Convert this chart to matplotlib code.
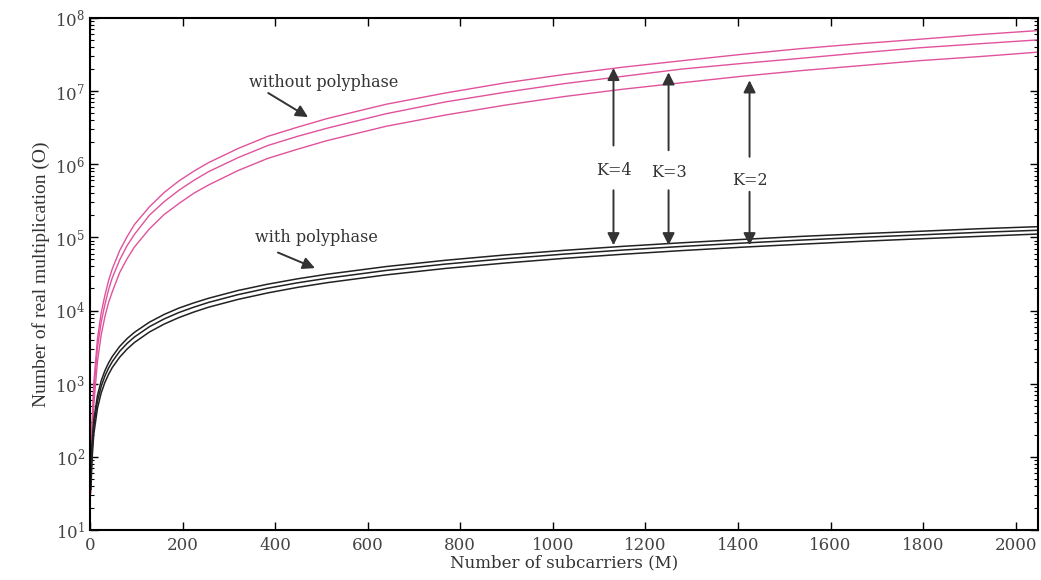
import numpy as np
import matplotlib
matplotlib.use('Agg')
import matplotlib.pyplot as plt

plt.rcParams['font.family'] = 'DejaVu Serif'
plt.rcParams['mathtext.fontset'] = 'dejavuserif'

# Number of subcarriers M
M = [2, 4, 8, 16, 24, 32, 40, 48, 64, 80, 96, 128, 160, 192, 224, 256, 320,
     384, 448, 512, 640, 768, 896, 1024, 1152, 1280, 1408, 1536, 1664, 1792,
     1920, 2048]

# without polyphase (pink)
sin_k4 = [64, 260, 1000, 4100, 9200, 16000, 25600, 37000, 66000, 102000,
          150000, 260000, 410000, 590000, 800000, 1.05e6, 1.64e6, 2.4e6,
          3.2e6, 4.2e6, 6.6e6, 9.4e6, 1.29e7, 1.68e7, 2.12e7, 2.6e7, 3.17e7,
          3.8e7, 4.43e7, 5.1e7, 5.9e7, 6.7e7]
sin_k3 = [48, 190, 770, 3100, 6900, 12000, 19200, 28000, 49000, 77000,
          110000, 200000, 307000, 440000, 600000, 790000, 1.23e6, 1.8e6,
          2.4e6, 3.1e6, 4.9e6, 7.1e6, 9.6e6, 1.26e7, 1.59e7, 2.0e7, 2.38e7,
          2.8e7, 3.32e7, 3.9e7, 4.42e7, 5.0e7]
sin_k2 = [32, 130, 510, 2000, 4600, 8200, 12800, 18000, 33000, 51000,
          74000, 130000, 205000, 290000, 400000, 520000, 820000, 1.2e6,
          1.6e6, 2.1e6, 3.3e6, 4.7e6, 6.4e6, 8.4e6, 1.06e7, 1.3e7, 1.59e7,
          1.9e7, 2.22e7, 2.6e7, 2.95e7, 3.4e7]

# with polyphase (black)
con_k4 = [65, 144, 317, 690, 1090, 1500, 1920, 2350, 3230, 4130, 5040, 6910,
          8830, 10800, 12700, 14700, 18800, 22900, 27100, 31300, 39900,
          48600, 57400, 66400, 75400, 84400, 93600, 103000, 112000, 121000,
          131000, 140000]
con_k3 = [50, 115, 259, 576, 915, 1270, 1630, 2000, 2770, 3550, 4350, 5990,
          7670, 9390, 11100, 12900, 16500, 20200, 23900, 27600, 35300,
          43100, 51000, 59000, 67100, 75200, 83400, 91700, 100000, 108000,
          117000, 125000]
con_k2 = [36, 86, 202, 461, 742, 1040, 1340, 1660, 2300, 2970, 3660, 5070,
          6520, 8010, 9520, 11100, 14200, 17400, 20700, 24000, 30700, 37600,
          44500, 51600, 58800, 66000, 73300, 80600, 88100, 95500, 103000,
          111000]

fig = plt.figure(figsize=(10.41, 5.80), dpi=100)
ax = fig.add_axes([0.0865, 0.0862, 0.9105, 0.883])

rosa = '#e0529b'
for serie in (sin_k4, sin_k3, sin_k2):
    ax.plot(M, serie, color=rosa, lw=1.0)
for serie in (con_k4, con_k3, con_k2):
    ax.plot(M, serie, color='#222222', lw=1.1)

ax.set_yscale('log')
ax.set_xlim(0, 2048)
ax.set_ylim(10, 1e8)
ax.set_xticks(range(0, 2001, 200))
ax.set_yticks([10.0 ** k for k in range(1, 9)])
ax.tick_params(which='both', direction='in', top=True, right=True,
               labelsize=12, colors='black')
ax.tick_params(which='major', length=6, width=1)
ax.tick_params(which='minor', length=3, width=0.8)
ax.tick_params(axis='x', pad=5)
for s in ax.spines.values():
    s.set_linewidth(1.5)

for lab in ax.get_xticklabels() + ax.get_yticklabels():
    lab.set_color('#444444')

ax.set_xlabel('Number of subcarriers (M)', fontsize=12, color='#333333',
              labelpad=0)
ax.set_ylabel('Number of real multiplication (O)', fontsize=14,
              family='Liberation Serif', color='#333333', labelpad=4)

flecha = dict(arrowstyle='-|>', color='#333333', lw=1.4, mutation_scale=18,
              shrinkA=0, shrinkB=0)

# etiquetas de las curvas
ax.text(504, 1.3e7, 'without polyphase', fontsize=11.5, color='#333333',
        ha='center', va='center')
ax.annotate('', xy=(471, 4.4e6), xytext=(385, 9.4e6), arrowprops=flecha)
ax.text(489, 9.8e4, 'with polyphase', fontsize=11.5, color='#333333',
        ha='center', va='center')
ax.annotate('', xy=(486, 3.8e4), xytext=(406, 6.2e4), arrowprops=flecha)

# flechas de K
k_x = [1131, 1250, 1425]
k_txt = ['K=4', 'K=3', 'K=2']
k_arriba = [2.07e7, 1.8e7, 1.4e7]
k_cola = [1.8e6, 1.55e6, 1.26e6]
k_y = [8.3e5, 7.6e5, 6.0e5]
k_cola_baja = [4.4e5, 4.4e5, 4.2e5]
k_abajo = [7.8e4, 7.8e4, 7.8e4]
for i in range(3):
    ax.annotate('', xy=(k_x[i], k_arriba[i]), xytext=(k_x[i], k_cola[i]),
                arrowprops=flecha)
    ax.text(k_x[i], k_y[i], k_txt[i], fontsize=11.5, color='#333333',
            ha='center', va='center')
    ax.annotate('', xy=(k_x[i], k_abajo[i]), xytext=(k_x[i], k_cola_baja[i]),
                arrowprops=flecha)

fig.savefig('out.png', dpi=100)
